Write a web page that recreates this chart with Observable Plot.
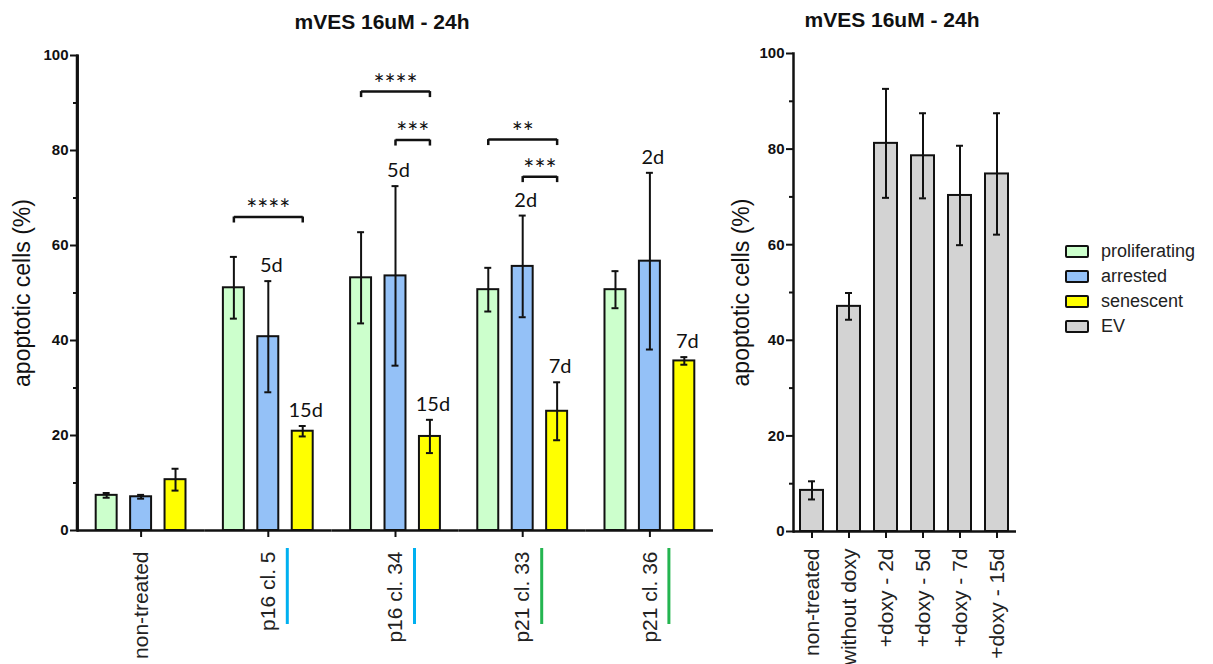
<!DOCTYPE html>
<html>
<head>
<meta charset="utf-8">
<script src="https://cdn.jsdelivr.net/npm/d3@7"></script>
<script src="https://cdn.jsdelivr.net/npm/@observablehq/plot@0.6"></script>
<style>
  html, body { margin: 0; padding: 0; background: #fff; }
  #wrap { position: relative; width: 1213px; height: 664px; overflow: hidden; font-family: "Liberation Sans", Arial, sans-serif; }
  .panel { position: absolute; top: 0; }
  .title { position: absolute; font-weight: bold; font-size: 21px; white-space: nowrap; transform: translate(-50%, -50%); color: #111; }
  #legend { position: absolute; left: 1065px; top: 239px; }
  .row { display: flex; align-items: center; height: 25px; }
  .sw { width: 20px; height: 9px; border: 2.5px solid #111; border-radius: 2px; box-sizing: content-box; }
  .lab { margin-left: 12px; font-size: 18px; color: #222; }
</style>
</head>
<body>
<div id="wrap"></div>
<script>
// ---------- data (left panel) ----------
const groups = ["non-treated", "p16 cl. 5", "p16 cl. 34", "p21 cl. 33", "p21 cl. 36"];
const series = ["proliferating", "arrested", "senescent"];
const seriesColors = ["#ccffcc", "#94c1f7", "#ffff00"];
const proliferatingMean = [7.4, 51.1, 53.2, 50.7, 50.7];
const proliferatingErr  = [0.5, 6.5, 9.6, 4.6, 3.9];
const arrestedMean      = [7.1, 40.8, 53.6, 55.6, 56.7];
const arrestedErr       = [0.4, 11.7, 18.9, 10.7, 18.6];
const senescentMean     = [10.7, 20.9, 19.8, 25.1, 35.7];
const senescentErr      = [2.3, 1.1, 3.5, 6.1, 0.8];
const arrestedDays      = [null, "5d", "5d", "2d", "2d"];
const senescentDays     = [null, "15d", "15d", "7d", "7d"];
const groupMarkerColors = [null, "#00b0f0", "#00b0f0", "#24b550", "#24b550"];

// significance brackets
const sigGroup = ["p16 cl. 5", "p16 cl. 34", "p16 cl. 34", "p21 cl. 33", "p21 cl. 33"];
const sigFrom  = ["proliferating", "proliferating", "arrested", "proliferating", "arrested"];
const sigTo    = ["senescent", "senescent", "senescent", "senescent", "senescent"];
const sigLevel = [66, 92.4, 82.2, 82.3, 74.5];
const sigText  = ["****", "****", "***", "**", "***"];

// ---------- data (right panel) ----------
const evCategories = ["non-treated", "without doxy", "+doxy - 2d", "+doxy - 5d", "+doxy - 7d", "+doxy - 15d"];
const evMean = [8.6, 47.1, 81.2, 78.6, 70.3, 74.8];
const evErr  = [1.9, 2.8, 11.4, 8.9, 10.4, 12.7];
const evColor = "#d3d3d3";

const yTicks = [0, 20, 40, 60, 80, 100];
const yMinorTicks = [10, 30, 50, 70, 90];
const titleText = "mVES 16uM - 24h";
const yLabel = "apoptotic cells (%)";

// ---------- tables ----------
const means = [proliferatingMean, arrestedMean, senescentMean];
const errs = [proliferatingErr, arrestedErr, senescentErr];
const days = [groups.map(() => null), arrestedDays, senescentDays];
const rows = groups.flatMap((g, i) => series.map((s, j) => ({
  group: g, series: s, mean: means[j][i], err: errs[j][i], day: days[j][i]
})));
const sig = sigGroup.map((g, i) => ({group: g, from: sigFrom[i], to: sigTo[i], level: sigLevel[i], text: sigText[i]}));
const markers = groups.map((g, i) => ({group: g, color: groupMarkerColors[i]})).filter(d => d.color);
const ev = evCategories.map((c, i) => ({cat: c, mean: evMean[i], err: evErr[i]}));

const FONT = "Liberation Sans, Arial, sans-serif";
const ANNOT = "Lato, 'Open Sans', sans-serif";
const innerPadI = 0.391, innerPadO = 0.543;
const facetWidth = (720 - 77 - 7) / groups.length;
const innerStep = facetWidth / (series.length - innerPadI + 2 * innerPadO);

const leftDims = {width: 720, height: 664, marginLeft: 77, marginRight: 7, marginTop: 55, marginBottom: 134};

function yAxisMarks(labelOffset) {
  return [
    Plot.frame({anchor: "left", stroke: "#111", strokeWidth: 2.5}),
    Plot.axisY({ticks: yTicks, tickSize: 7, tickPadding: 2, fontSize: 15, fontWeight: "bold", label: null, stroke: "#111", strokeWidth: 2}),
    Plot.axisY({ticks: yMinorTicks, tickSize: 4, fill: "none", label: null, stroke: "#111", strokeWidth: 2}),
    Plot.axisY({ticks: [], tickSize: 0, label: yLabel, labelArrow: false, labelAnchor: "center", labelOffset, fontSize: 23, fill: "#111"})
  ];
}

const left = Plot.plot({
  ...leftDims,
  style: {fontFamily: FONT, background: "transparent", color: "#111"},
  fx: {domain: groups, padding: 0, round: false, label: null},
  x: {domain: series, paddingInner: innerPadI, paddingOuter: innerPadO, round: false, axis: null},
  y: {domain: [0, 100], label: null, axis: null},
  color: {domain: series, range: seriesColors},
  marks: [
    Plot.barY(rows, {fx: "group", x: "series", y: "mean", fill: "series", stroke: "#111", strokeWidth: 2}),
    Plot.ruleX(rows, {fx: "group", x: "series", y1: d => d.mean - d.err, y2: d => d.mean + d.err, stroke: "#111", strokeWidth: 2}),
    Plot.tickY(rows, {fx: "group", x: "series", y: d => d.mean + d.err, insetLeft: 7, insetRight: 7, stroke: "#111", strokeWidth: 2}),
    Plot.tickY(rows, {fx: "group", x: "series", y: d => d.mean - d.err, insetLeft: 7, insetRight: 7, stroke: "#111", strokeWidth: 2}),
    Plot.text(rows.filter(d => d.day), {fx: "group", x: "series", y: d => d.mean + d.err, text: "day",
      lineAnchor: "bottom", dy: -9, dx: 3, fontFamily: ANNOT, fontSize: 20, fill: "#111"}),
    Plot.link(sig, {fx: "group", x1: "from", x2: "to", y1: "level", y2: "level", stroke: "#111", strokeWidth: 2.5}),
    Plot.ruleX(sig, {fx: "group", x: "from", y1: "level", y2: "level", insetBottom: -6, stroke: "#111", strokeWidth: 2.5}),
    Plot.ruleX(sig, {fx: "group", x: "to", y1: "level", y2: "level", insetBottom: -6, stroke: "#111", strokeWidth: 2.5}),
    Plot.text(sig.filter(d => d.from === "proliferating"), {fx: "group", x: () => "arrested", y: "level", text: "text",
      lineAnchor: "bottom", dy: 2, fontFamily: ANNOT, fontSize: 26, fill: "#111"}),
    Plot.text(sig.filter(d => d.from === "arrested"), {fx: "group", x: "to", y: "level", text: "text",
      lineAnchor: "bottom", dy: 2, dx: -innerStep / 2, fontFamily: ANNOT, fontSize: 26, fill: "#111"}),
    Plot.ruleY([0], {stroke: "#111", strokeWidth: 2.5}),
    Plot.axisFx({anchor: "bottom", tickSize: 7, tickPadding: 14, tickRotate: -90, fontSize: 21, label: null, stroke: "#111", strokeWidth: 2, fill: "#222"}),
    Plot.ruleX(markers, {fx: "group", x: () => "arrested", y1: 0, y2: 0, insetTop: 18, insetBottom: -94, dx: 19,
      stroke: {value: "color", scale: null}, strokeWidth: 3})
  ]
});

// y axis of the left panel: an unfaceted layer sharing the same frame and y scale
const leftAxis = Plot.plot({
  ...leftDims,
  style: {fontFamily: FONT, background: "transparent", color: "#111"},
  x: {domain: [0, 1], axis: null},
  y: {domain: [0, 100], label: null},
  marks: [
    ...yAxisMarks(64),
    Plot.rect([0], {x1: 0, x2: 0, y1: 0, y2: 100, insetLeft: -1.25, insetRight: -1.25, fill: "#111"}),
    Plot.ruleX([0], {y1: 0, y2: 100, stroke: "#111", strokeWidth: 2.5})
  ]
});

const right = Plot.plot({
  width: 493, height: 664,
  marginLeft: 73, marginRight: 197, marginTop: 53, marginBottom: 133,
  style: {fontFamily: FONT, background: "transparent", color: "#111"},
  x: {domain: evCategories, paddingInner: 0.378, paddingOuter: 0.2025, label: null},
  y: {domain: [0, 100], label: null},
  marks: [
    Plot.barY(ev, {x: "cat", y: "mean", fill: evColor, stroke: "#111", strokeWidth: 2}),
    Plot.ruleX(ev, {x: "cat", y1: d => d.mean - d.err, y2: d => d.mean + d.err, stroke: "#111", strokeWidth: 2}),
    Plot.tickY(ev, {x: "cat", y: d => d.mean + d.err, insetLeft: 8, insetRight: 8, stroke: "#111", strokeWidth: 2}),
    Plot.tickY(ev, {x: "cat", y: d => d.mean - d.err, insetLeft: 8, insetRight: 8, stroke: "#111", strokeWidth: 2}),
    Plot.ruleY([0], {stroke: "#111", strokeWidth: 2.5}),
    ...yAxisMarks(61),
    Plot.axisX({tickSize: 7, tickPadding: 10, tickRotate: -90, fontSize: 21, label: null, stroke: "#111", strokeWidth: 2, fill: "#222"})
  ]
});

const wrap = document.getElementById("wrap");
[left, leftAxis, right].forEach(svg => { svg.classList.add("panel"); svg.style.background = "transparent"; });
left.style.left = "0px";
leftAxis.style.left = "0px";
right.style.left = "720px";
wrap.appendChild(left);
wrap.appendChild(right);
wrap.appendChild(leftAxis);

function addTitle(x, y) {
  const t = document.createElement("div");
  t.className = "title"; t.textContent = titleText;
  t.style.left = x + "px"; t.style.top = y + "px";
  wrap.appendChild(t);
}
addTitle(382, 22);
addTitle(892, 20);

const legend = document.createElement("div");
legend.id = "legend";
const legendNames = series.concat(["EV"]);
const legendColors = seriesColors.concat([evColor]);
legendNames.forEach((n, i) => {
  const r = document.createElement("div"); r.className = "row";
  const s = document.createElement("div"); s.className = "sw"; s.style.background = legendColors[i];
  const l = document.createElement("div"); l.className = "lab"; l.textContent = n;
  r.appendChild(s); r.appendChild(l); legend.appendChild(r);
});
wrap.appendChild(legend);
</script>
</body>
</html>
